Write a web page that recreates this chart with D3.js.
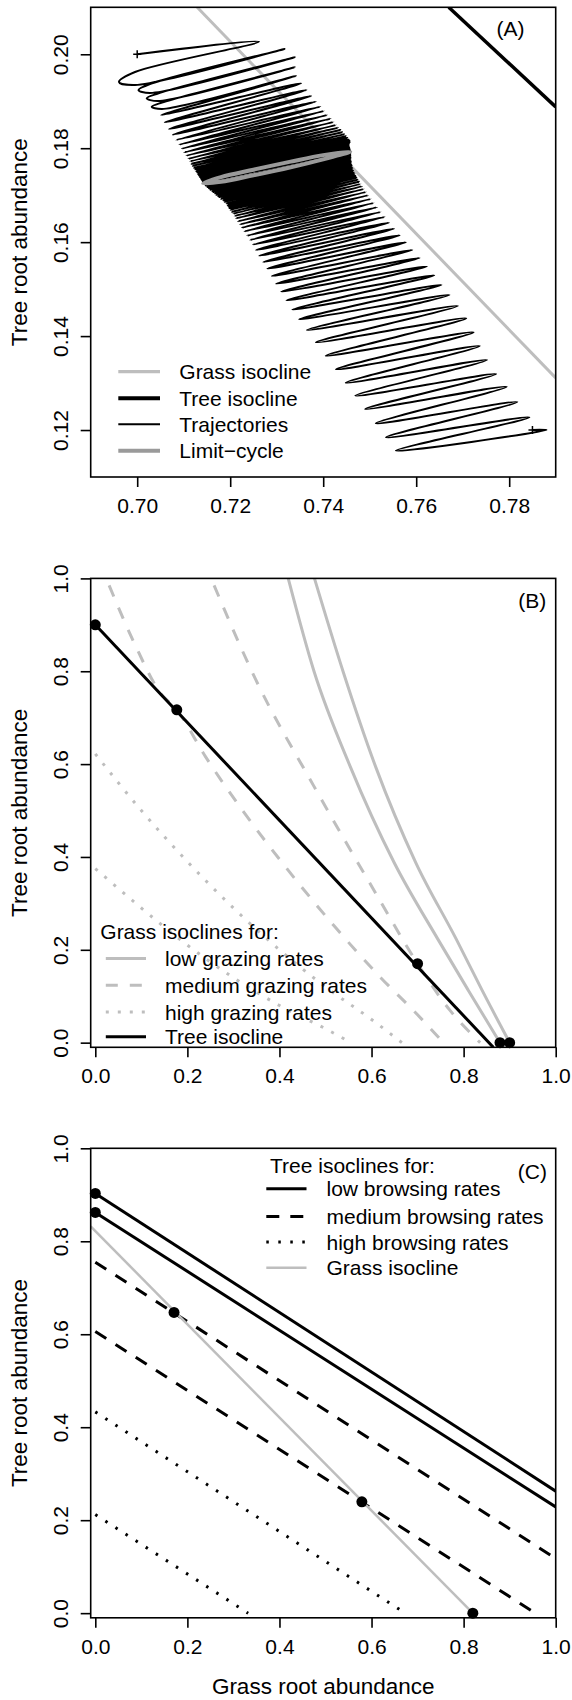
<!DOCTYPE html>
<html>
<head>
<meta charset="utf-8">
<script src="https://cdn.jsdelivr.net/npm/d3@7"></script>
<style>
  body { margin: 0; background: #fff; }
  svg { display: block; }
</style>
</head>
<body>
<svg id="chart" width="572" height="1700"></svg>
<script>
// ---------- panel A : phase plane with trajectories ----------
const aTicksX = [0.70, 0.72, 0.74, 0.76, 0.78];
const aTicksY = [0.12, 0.14, 0.16, 0.18, 0.20];
const grassIsoA = [[0.7129, 0.2100], [0.7900, 0.1311]];
const treeIsoA = [[0.7670, 0.2100], [0.7900, 0.1888]];

// trajectory starting top-left: start, then right / left turning points
const topStart = [0.7000, 0.2000];
const topRight = [[0.72620,0.20268],[0.73169,0.20112],[0.73389,0.19935],[0.73389,0.19722],[0.73420,0.19537],[0.73522,0.19381],[0.73640,0.19239],[0.73742,0.19112],[0.73844,0.18991],[0.73938,0.18884],[0.74016,0.18792],[0.74087,0.18707],[0.74158,0.18629],[0.74220,0.18558],[0.74275,0.18494],[0.74322,0.18437],[0.74370,0.18388],[0.74409,0.18338],[0.74448,0.18295],[0.74487,0.18253],[0.74519,0.18217],[0.74550,0.18182],[0.74566,0.18154],[0.74566,0.18125],[0.74558,0.18097],[0.74550,0.18075],[0.74550,0.18054],[0.74550,0.18033],[0.74558,0.18012],[0.74558,0.17997],[0.74566,0.17983],[0.74566,0.17969],[0.74574,0.17955],[0.74574,0.17940]];
const topLeft = [[0.69609,0.19410],[0.70028,0.19239],[0.70204,0.19063],[0.70312,0.18884],[0.70517,0.18707],[0.70593,0.18551],[0.70686,0.18409],[0.70765,0.18288],[0.70839,0.18175],[0.70904,0.18075],[0.70959,0.17990],[0.71010,0.17912],[0.71056,0.17841],[0.71098,0.17777],[0.71136,0.17721],[0.71168,0.17671],[0.71195,0.17628],[0.71223,0.17586],[0.71246,0.17550],[0.71270,0.17515],[0.71288,0.17486],[0.71307,0.17458],[0.71321,0.17437],[0.71334,0.17416],[0.71348,0.17394],[0.71358,0.17380],[0.71371,0.17359],[0.71380,0.17345],[0.71395,0.17323],[0.71399,0.17316],[0.71409,0.17302],[0.71417,0.17288],[0.71420,0.17281],[0.71420,0.17266]];
// rounded left ends of the first loops: [before tip, after tip]
const topRound = [
  [[0.69953,0.19623],[0.69953,0.19346]],
  [[0.70275,0.19367],[0.70275,0.19175]],
  [[0.70447,0.19165],[0.70447,0.19005]],
  [[0.70533,0.18973],[0.70533,0.18835]]
];

// trajectory starting bottom-right
const lowStart = [0.7850, 0.1200];
const lowRight = [[0.78802,0.12001],[0.78434,0.12270],[0.78175,0.12597],[0.77947,0.12923],[0.77720,0.13193],[0.77523,0.13491],[0.77367,0.13789],[0.77233,0.14080],[0.77076,0.14378],[0.76896,0.14641],[0.76715,0.14875],[0.76543,0.15088],[0.76386,0.15294],[0.76229,0.15485],[0.76072,0.15663],[0.75915,0.15833],[0.75774,0.15996],[0.75641,0.16145],[0.75523,0.16287],[0.75413,0.16415],[0.75319,0.16536],[0.75233,0.16642],[0.75154,0.16741],[0.75084,0.16834],[0.75021,0.16919],[0.74966,0.16997],[0.74919,0.17068],[0.74872,0.17132],[0.74833,0.17188],[0.74801,0.17238],[0.74770,0.17288],[0.74738,0.17330],[0.74715,0.17373],[0.74691,0.17408],[0.74676,0.17444],[0.74660,0.17479],[0.74644,0.17515],[0.74628,0.17550],[0.74621,0.17586],[0.74613,0.17621],[0.74605,0.17650],[0.74597,0.17678],[0.74597,0.17706],[0.74589,0.17735],[0.74589,0.17763],[0.74589,0.17792],[0.74581,0.17820],[0.74581,0.17848],[0.74581,0.17877],[0.74581,0.17898]];
const lowLeft = [[0.75562,0.11561],[0.75350,0.11845],[0.75131,0.12143],[0.74903,0.12448],[0.74691,0.12732],[0.74487,0.13008],[0.74275,0.13292],[0.74056,0.13583],[0.73844,0.13867],[0.73648,0.14130],[0.73483,0.14357],[0.73334,0.14563],[0.73208,0.14761],[0.73099,0.14946],[0.72989,0.15116],[0.72895,0.15279],[0.72800,0.15436],[0.72714,0.15577],[0.72628,0.15712],[0.72557,0.15833],[0.72487,0.15946],[0.72424,0.16046],[0.72361,0.16138],[0.72306,0.16230],[0.72251,0.16308],[0.72212,0.16379],[0.72165,0.16443],[0.72126,0.16507],[0.72094,0.16557],[0.72063,0.16606],[0.72039,0.16649],[0.72008,0.16692],[0.71985,0.16727],[0.71961,0.16763],[0.71945,0.16791],[0.71922,0.16826],[0.71883,0.16862],[0.71851,0.16890],[0.71804,0.16926],[0.71765,0.16961],[0.71741,0.16983],[0.71702,0.17011],[0.71671,0.17039],[0.71639,0.17068],[0.71616,0.17089],[0.71577,0.17117],[0.71545,0.17146],[0.71514,0.17174],[0.71475,0.17203],[0.71451,0.17224]];

const limitCycle = [[0.7142,0.17253],[0.7180,0.17384],[0.7250,0.17543],[0.7330,0.17714],[0.7400,0.17853],[0.7458,0.17926],[0.7400,0.17763],[0.7330,0.17594],[0.7250,0.17423],[0.7180,0.17284]];

// ---------- panel B : grazing ----------
const unitTicks = [0, 0.2, 0.4, 0.6, 0.8, 1.0];
const lowGraze = [
  [[0.419,1.0],[0.475,0.80],[0.554,0.594],[0.649,0.388],[0.744,0.223],[0.810,0.113],[0.879,0.0]],
  [[0.476,1.0],[0.538,0.80],[0.609,0.594],[0.696,0.388],[0.784,0.223],[0.840,0.113],[0.900,0.0]]
];
const medGraze = [
  [[0.030,0.985],[0.085,0.860],[0.140,0.755],[0.177,0.717],[0.240,0.615],[0.320,0.500],[0.420,0.370],[0.520,0.250],[0.620,0.140],[0.700,0.060],[0.756,0.0]],
  [[0.258,0.985],[0.348,0.783],[0.475,0.552],[0.609,0.322],[0.700,0.170],[0.770,0.070],[0.836,0.0]]
];
const highGraze = [
  [[0.0,0.622],[0.1,0.500],[0.2,0.390],[0.3,0.290],[0.4,0.200],[0.5,0.120],[0.6,0.050],[0.666,0.0]],
  [[0.0,0.375],[0.1,0.290],[0.2,0.210],[0.3,0.140],[0.4,0.080],[0.5,0.030],[0.555,0.0]]
];
const treeIsoB = [[0, 0.90], [0.8645, -0.01]];
const eqB = [[0, 0.90], [0.177, 0.717], [0.700, 0.170], [0.879, 0.0], [0.900, 0.0]];

// ---------- panel C : browsing ----------
const lowBrowse = [[[0, 0.903], [1, 0.2625]], [[0, 0.862], [1, 0.2285]]];
const medBrowse = [[[0, 0.755], [1, 0.1177]], [[0, 0.606], [0.956, 0]]];
const highBrowse = [[[0, 0.433], [0.673, 0]], [[0, 0.212], [0.332, 0]]];
const grassIsoC = [[-0.01, 0.832], [0.82, 0]];
const eqC = [[0, 0.903], [0, 0.862], [0.171, 0.647], [0.579, 0.2395], [0.82, 0.0]];

// ---------- drawing ----------
const FONT = "'Liberation Sans', Arial, Helvetica, sans-serif";
const GREY = "#bebebe";
const svg = d3.select("#chart");
const left = 90.7, right = 555.7;

function panel(name, xDomain, yDomain, top, bottom, xTicks, yTicks, fmt) {
  const x = d3.scaleLinear().domain(xDomain).range([left, right]);
  const y = d3.scaleLinear().domain(yDomain).range([bottom, top]);
  svg.append("clipPath").attr("id", "clip" + name)
    .append("rect").attr("x", left).attr("y", top)
    .attr("width", right - left).attr("height", bottom - top);
  const g = svg.append("g");
  const plot = g.append("g").attr("clip-path", `url(#clip${name})`);

  const xa = g.append("g").attr("transform", `translate(0,${bottom})`)
    .call(d3.axisBottom(x).tickValues(xTicks).tickSize(10).tickPadding(11).tickFormat(d3.format(fmt)));
  const ya = g.append("g").attr("transform", `translate(${left},0)`)
    .call(d3.axisLeft(y).tickValues(yTicks).tickSize(10).tickFormat(d3.format(fmt)));
  [xa, ya].forEach(a => {
    a.select(".domain").remove();
    a.attr("font-size", 21).attr("font-family", FONT);
    a.selectAll("line").attr("stroke", "#000").attr("stroke-width", 1.6);
    a.selectAll("text").attr("fill", "#000");
  });
  ya.selectAll("text")
    .attr("x", 0).attr("dy", 0)
    .attr("text-anchor", "middle")
    .attr("transform", "translate(-22.5,0) rotate(-90)");

  g.append("rect").attr("x", left).attr("y", top)
    .attr("width", right - left).attr("height", bottom - top)
    .attr("fill", "none").attr("stroke", "#000").attr("stroke-width", 1.6);

  g.append("text").attr("transform", `translate(27,${(top + bottom) / 2}) rotate(-90)`)
    .attr("text-anchor", "middle").attr("font-family", FONT).attr("font-size", 22.5)
    .text("Tree root abundance");

  const line = d3.line().x(d => x(d[0])).y(d => y(d[1]));
  return { g, plot, x, y, line };
}

function legend(g, x0, x1, xt, rows) {
  rows.forEach(r => {
    if (r.color) {
      g.append("line").attr("x1", x0).attr("x2", x1).attr("y1", r.y).attr("y2", r.y)
        .attr("stroke", r.color).attr("stroke-width", r.width)
        .attr("stroke-dasharray", r.dash || null);
    }
    g.append("text").attr("x", r.tx !== undefined ? r.tx : xt).attr("y", r.y).attr("dy", "0.36em")
      .attr("font-family", FONT).attr("font-size", 21).text(r.label);
  });
}

function label(g, x, y, t) {
  g.append("text").attr("x", x).attr("y", y).attr("dy", "0.36em").attr("text-anchor", "middle")
    .attr("font-family", FONT).attr("font-size", 21).text(t);
}

// ----- A -----
const A = panel("A", [0.69, 0.79], [0.11, 0.21], 7.3, 477, aTicksX, aTicksY, ".2f");

A.plot.append("path").attr("d", A.line(grassIsoA))
  .attr("fill", "none").attr("stroke", GREY).attr("stroke-width", 3);
A.plot.append("path").attr("d", A.line(treeIsoA))
  .attr("fill", "none").attr("stroke", "#000").attr("stroke-width", 3.5);

const topPath = [topStart];
topRight.forEach((r, i) => {
  topPath.push(r);
  if (topRound[i]) topPath.push(topRound[i][0], topLeft[i], topRound[i][1]);
  else topPath.push(topLeft[i]);
});
const lowPath = [lowStart];
lowRight.forEach((r, i) => { lowPath.push(r, lowLeft[i]); });

const trajLine = d3.line().x(d => A.x(d[0])).y(d => A.y(d[1])).curve(d3.curveCatmullRom.alpha(0.5));
[topPath, lowPath].forEach(p => {
  A.plot.append("path").attr("d", trajLine(p))
    .attr("fill", "none").attr("stroke", "#000").attr("stroke-width", 2)
    .attr("stroke-linejoin", "round");
});

A.plot.append("path")
  .attr("d", d3.line().x(d => A.x(d[0])).y(d => A.y(d[1])).curve(d3.curveCatmullRomClosed.alpha(0.5))(limitCycle))
  .attr("fill", "none").attr("stroke", "#9a9a9a").attr("stroke-width", 4);

[topStart, lowStart].forEach(p => {
  const px = A.x(p[0]), py = A.y(p[1]);
  A.g.append("path").attr("d", `M${px - 4},${py}H${px + 4}M${px},${py - 4}V${py + 4}`)
    .attr("stroke", "#000").attr("stroke-width", 1.5);
});

legend(A.g, 118.3, 160, 179.3, [
  { y: 371.7, color: GREY, width: 3.3, label: "Grass isocline" },
  { y: 398.3, color: "#000", width: 4, label: "Tree isocline" },
  { y: 424.3, color: "#000", width: 2, label: "Trajectories" },
  { y: 450.7, color: "#9a9a9a", width: 4, label: "Limit\u2212cycle" }
]);
label(A.g, 510.5, 28.3, "(A)");

// ----- B -----
const B = panel("B", [-0.01, 1], [-0.01, 1], 578.4, 1047.3, unitTicks, unitTicks, ".1f");
const smooth = d3.line().x(d => B.x(d[0])).y(d => B.y(d[1])).curve(d3.curveMonotoneX);

lowGraze.forEach(c => B.plot.append("path").attr("d", smooth(c))
  .attr("fill", "none").attr("stroke", GREY).attr("stroke-width", 3));
medGraze.forEach(c => B.plot.append("path").attr("d", smooth(c))
  .attr("fill", "none").attr("stroke", GREY).attr("stroke-width", 3).attr("stroke-dasharray", "12 12"));
highGraze.forEach(c => B.plot.append("path").attr("d", smooth(c))
  .attr("fill", "none").attr("stroke", GREY).attr("stroke-width", 3).attr("stroke-dasharray", "3 9"));
B.plot.append("path").attr("d", B.line(treeIsoB))
  .attr("fill", "none").attr("stroke", "#000").attr("stroke-width", 3);

B.g.selectAll("circle.eq").data(eqB).join("circle")
  .attr("cx", d => B.x(d[0])).attr("cy", d => B.y(d[1])).attr("r", 5.5).attr("fill", "#000");

legend(B.g, 105.8, 146, 165, [
  { y: 931.6, label: "Grass isoclines for:", tx: 100.3 },
  { y: 958.4, color: GREY, width: 3, label: "low grazing rates" },
  { y: 985.2, color: GREY, width: 3, dash: "12 12", label: "medium grazing rates" },
  { y: 1012, color: GREY, width: 3, dash: "3 9", label: "high grazing rates" },
  { y: 1036.8, color: "#000", width: 3, label: "Tree isocline" }
]);
label(B.g, 532.3, 600.5, "(B)");

// ----- C -----
const C = panel("C", [-0.01, 1], [-0.01, 1], 1148.3, 1617.8, unitTicks, unitTicks, ".1f");
lowBrowse.forEach(c => C.plot.append("path").attr("d", C.line(c))
  .attr("fill", "none").attr("stroke", "#000").attr("stroke-width", 3));
medBrowse.forEach(c => C.plot.append("path").attr("d", C.line(c))
  .attr("fill", "none").attr("stroke", "#000").attr("stroke-width", 3).attr("stroke-dasharray", "13 11"));
highBrowse.forEach(c => C.plot.append("path").attr("d", C.line(c))
  .attr("fill", "none").attr("stroke", "#000").attr("stroke-width", 3).attr("stroke-dasharray", "2.5 9.5"));
C.plot.append("path").attr("d", C.line(grassIsoC))
  .attr("fill", "none").attr("stroke", GREY).attr("stroke-width", 2.5);

C.g.selectAll("circle.eq").data(eqC).join("circle")
  .attr("cx", d => C.x(d[0])).attr("cy", d => C.y(d[1])).attr("r", 5.5).attr("fill", "#000");

legend(C.g, 266.3, 306.5, 326.5, [
  { y: 1165, label: "Tree isoclines for:", tx: 270 },
  { y: 1188.7, color: "#000", width: 3, label: "low browsing rates" },
  { y: 1216.4, color: "#000", width: 3, dash: "13 11", label: "medium browsing rates" },
  { y: 1242.1, color: "#000", width: 3, dash: "2.5 9.5", label: "high browsing rates" },
  { y: 1267.8, color: GREY, width: 2.5, label: "Grass isocline" }
]);
label(C.g, 532.3, 1171.7, "(C)");

C.g.append("text").attr("x", (left + right) / 2).attr("y", 1694)
  .attr("text-anchor", "middle").attr("font-family", FONT).attr("font-size", 22.5)
  .text("Grass root abundance");
</script>
</body>
</html>
